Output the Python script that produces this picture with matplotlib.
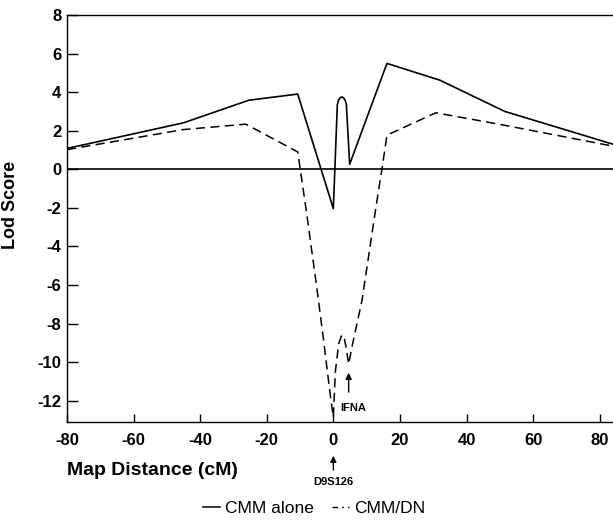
import matplotlib
matplotlib.use('Agg')
import matplotlib.pyplot as plt
from matplotlib.lines import Line2D

plt.rcParams['font.family'] = ['Liberation Sans', 'DejaVu Sans']
plt.rcParams['axes.unicode_minus'] = False

# CMM alone (solid)
cmm_x = [-80, -45, -25.4, -10.7, 0, 1.2, 1.6, 2.1, 2.6, 3.1, 3.6, 3.9, 4.9, 16.1, 32, 51.5, 84]
cmm_y = [1.08, 2.41, 3.58, 3.9, -2.04, 3.35, 3.6, 3.72, 3.75, 3.7, 3.55, 3.38, 0.26, 5.49, 4.62, 3.0, 1.3]
# CMM/DN (dashed)
dn_x = [-80, -45, -26.3, -10.7, -8, -5, -2.9, -1, 0, 0.6, 1.6, 2.4, 3.1, 3.8, 4.6, 5.6, 8.6, 12.8, 14.6, 16.1, 30.8, 50, 84]
dn_y = [1.02, 2.06, 2.34, 0.9, -2.3, -6.1, -8.9, -11.6, -12.85, -10.5, -9.05, -8.65, -8.6, -9.2, -10.1, -9.2, -6.8, -1.96, 0.0, 1.77, 2.93, 2.33, 1.2]

xticks = list(range(-80, 81, 20))
yticks = list(range(-12, 9, 2))

fig = plt.figure(figsize=(6.13, 5.24), dpi=100)
ax = fig.add_axes([0.1093, 0.1947, 0.8907, 0.7767])

ax.plot(cmm_x, cmm_y, color='k', lw=1.2)
ax.plot(dn_x, dn_y, color='k', lw=1.1, linestyle=(0, (6, 3.5)))
ax.axhline(0, color='k', lw=1.2)

ax.set_xlim(-80, 84)
ax.set_ylim(-13.1, 8)
ax.set_xticks(xticks)
ax.set_yticks(yticks)
ax.tick_params(axis='y', direction='in', length=7.7, width=1, pad=4, labelsize=12)
ax.tick_params(axis='x', direction='in', length=5.8, width=1, pad=8, labelsize=12)
for lab in ax.get_xticklabels() + ax.get_yticklabels():
    lab.set_fontweight('bold')
ax.spines['right'].set_visible(False)
for s in ['left', 'top', 'bottom']:
    ax.spines[s].set_linewidth(1.0)

ax.set_ylabel('Lod Score', fontsize=13, fontweight='bold')
ax.yaxis.set_label_coords(-0.088, 0.533)
ax.set_xlabel('Map Distance (cM)', fontsize=14, fontweight='bold', ha='left', va='center')
ax.xaxis.set_label_coords(0, -0.120)

# IFNA marker
ax.annotate('', xy=(4.6, -10.55), xytext=(4.6, -11.55),
            arrowprops=dict(arrowstyle='-|>', color='k', lw=1, mutation_scale=9,
                            shrinkA=0, shrinkB=0))
ax.text(2.1, -12.4, 'IFNA', fontsize=8, fontweight='bold', ha='left', va='center')

# D9S126 marker below axis
tr = ax.get_xaxis_transform()
ax.annotate('', xy=(0, -0.083), xytext=(0, -0.118), xycoords=tr, textcoords=tr,
            arrowprops=dict(arrowstyle='-|>', color='k', lw=1, mutation_scale=9,
                            shrinkA=0, shrinkB=0), annotation_clip=False)
ax.text(0, -0.147, 'D9S126', transform=tr, fontsize=8, fontweight='bold',
        ha='center', va='center', clip_on=False)

handles = [Line2D([], [], color='k', lw=1.1),
           Line2D([], [], color='k', lw=1.0, linestyle=(0, (4, 3, 1.2, 3)))]
fig.legend(handles, ['CMM alone', 'CMM/DN'], loc='center', ncol=2,
           bbox_to_anchor=(314 / 613, 1 - 508 / 524), frameon=False,
           fontsize=12.5, handlelength=1.0, handletextpad=0.3, columnspacing=1.0)

fig.savefig('out.png', dpi=100)
